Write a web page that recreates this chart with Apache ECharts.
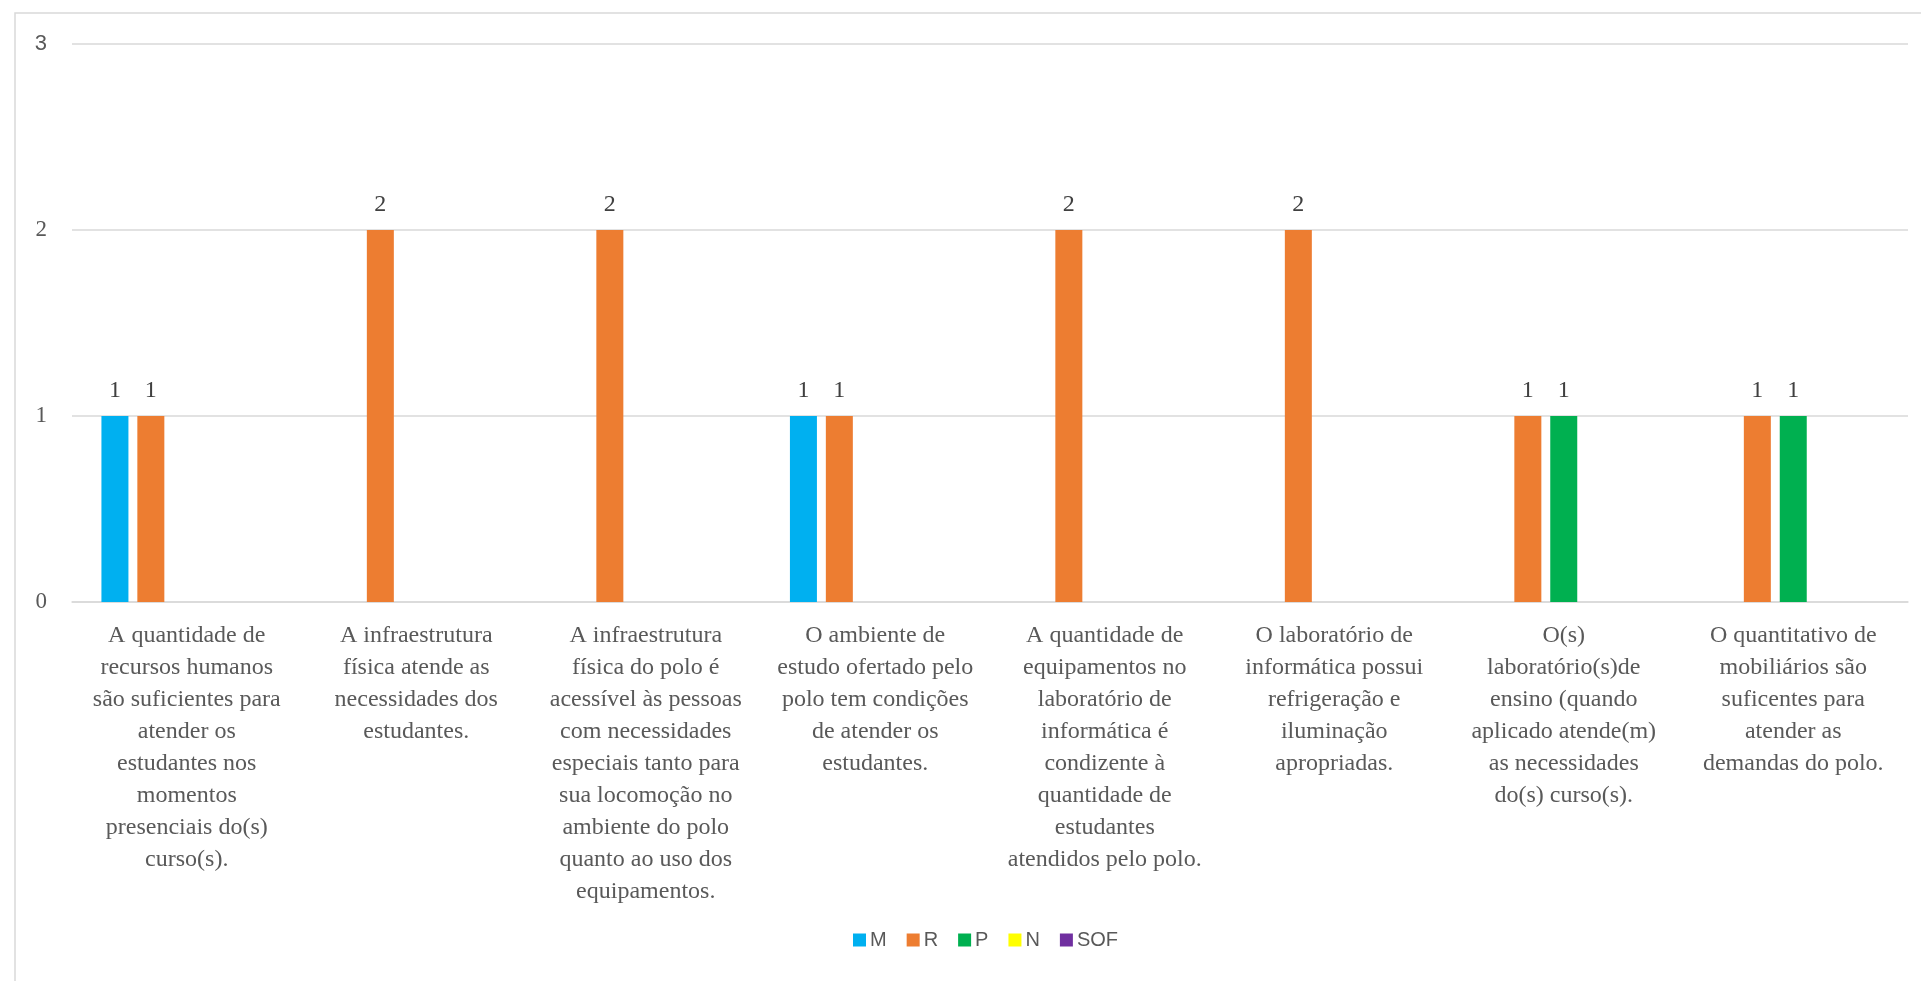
<!DOCTYPE html>
<html>
<head>
<meta charset="utf-8">
<title>Polo</title>
<script src="https://cdn.jsdelivr.net/npm/echarts@6/dist/echarts.min.js"></script>
<style>
  html, body { margin: 0; padding: 0; background: #fff; }
  #chart { width: 1921px; height: 981px; }
</style>
</head>
<body>
<div id="chart"></div>
<script>
const categories = [
  "A quantidade de\nrecursos humanos\nsão suficientes para\natender os\nestudantes nos\nmomentos\npresenciais do(s)\ncurso(s).",
  "A infraestrutura\nfísica atende as\nnecessidades dos\nestudantes.",
  "A infraestrutura\nfísica do polo é\nacessível às pessoas\ncom necessidades\nespeciais tanto para\nsua locomoção no\nambiente do polo\nquanto ao uso dos\nequipamentos.",
  "O ambiente de\nestudo ofertado pelo\npolo tem condições\nde atender os\nestudantes.",
  "A quantidade de\nequipamentos no\nlaboratório de\ninformática é\ncondizente à\nquantidade de\nestudantes\natendidos pelo polo.",
  "O laboratório de\ninformática possui\nrefrigeração e\niluminação\napropriadas.",
  "O(s)\nlaboratório(s)de\nensino (quando\naplicado atende(m)\nas necessidades\ndo(s) curso(s).",
  "O quantitativo de\nmobiliários são\nsuficentes para\natender as\ndemandas do polo."
];

const seriesNames = ["M", "R", "P", "N", "SOF"];
const seriesColors = ["#00B0F0", "#ED7D31", "#00B050", "#FFFF00", "#7030A0"];

const valM = [1, 0, 0, 1, 0, 0, 0, 0];
const valR = [1, 2, 2, 1, 2, 2, 1, 1];
const valP = [0, 0, 0, 0, 0, 0, 1, 1];
const valN = [0, 0, 0, 0, 0, 0, 0, 0];
const valSOF = [0, 0, 0, 0, 0, 0, 0, 0];

const yTicks = [0, 1, 2, 3];

const allValues = [valM, valR, valP, valN, valSOF];
const serif = "'Liberation Serif', 'DejaVu Serif', serif";
const sans = "'Liberation Sans', Arial, sans-serif";

const chart = echarts.init(document.getElementById('chart'));

const option = {
  backgroundColor: '#fff',
  animation: false,
  graphic: [
    {
      type: 'rect',
      shape: { x: 15, y: 13, width: 1930, height: 1000 },
      style: { fill: 'none', stroke: '#d9d9d9', lineWidth: 1.5 },
      silent: true
    }
  ],
  grid: { left: 72, right: 13, top: 44, bottom: 379, containLabel: false },
  legend: {
    data: seriesNames,
    bottom: 26,
    left: 848,
    itemWidth: 13,
    itemHeight: 13,
    itemGap: 20,
    icon: 'rect',
    textStyle: { color: '#595959', fontSize: 20, fontFamily: sans, padding: [0, 0, 0, -1] }
  },
  xAxis: {
    type: 'category',
    data: categories,
    axisTick: { show: false },
    axisLine: { lineStyle: { color: '#d9d9d9', width: 1.5 } },
    axisLabel: {
      interval: 0,
      margin: 18,
      color: '#595959',
      fontSize: 24,
      lineHeight: 32,
      fontFamily: serif,
      align: 'center'
    }
  },
  yAxis: {
    type: 'value',
    min: 0,
    max: 3,
    interval: 1,
    axisLine: { show: false },
    axisTick: { show: false },
    splitLine: { lineStyle: { color: '#d9d9d9', width: 1.5 } },
    axisLabel: {
      margin: 25,
      color: '#595959',
      fontSize: 23,
      fontFamily: serif,
      formatter: v => (yTicks.indexOf(v) === yTicks.length - 1 ? '{s|' + v + '}' : String(v)),
      rich: { s: { fontFamily: sans, fontSize: 22, color: '#595959' } }
    }
  },
  series: seriesNames.map((name, i) => ({
    name: name,
    type: 'bar',
    data: allValues[i],
    barWidth: 27,
    barGap: '33%',
    itemStyle: { color: seriesColors[i] },
    label: {
      show: true,
      position: 'top',
      distance: 13,
      color: '#404040',
      fontSize: 24,
      fontFamily: serif,
      formatter: p => (p.value === 0 ? '' : String(p.value))
    }
  }))
};

chart.setOption(option);
</script>
</body>
</html>
